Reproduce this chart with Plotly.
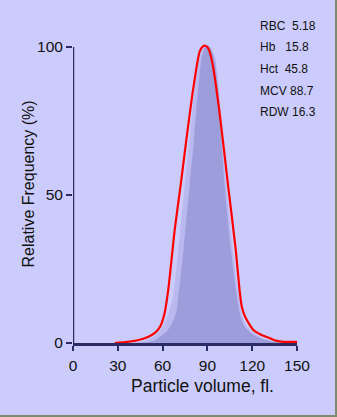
import plotly.graph_objects as go

# ---- data ----
red_v = [28, 35, 44, 50.5, 55, 58.3, 61.3, 63.8, 68.1, 72.1, 75.9, 80.4, 84.8, 87, 88.6,
         90.2, 91.5, 93.8, 98.2, 103.8, 109, 111.5, 113, 115.2, 120.8, 126, 132, 136, 141, 150]
red_f = [0, 0.3, 1.0, 2.1, 3.5, 5.5, 10, 18, 38.2, 53.4, 68.6, 85.5, 98.4, 100.2, 100.4,
         99.8, 98.4, 93.3, 77.6, 53.4, 31.4, 18, 12.3, 8.9, 4.4, 2.8, 1.6, 0.8, 0.4, 0.4]

dark_v = [42, 50, 55, 58, 62, 65, 67.5, 69.4, 70.5, 72, 74, 78.1, 81, 83.7, 85.9, 88, 89.9,
          91.8, 94.9, 97.1, 99.3, 101.5, 103.5, 105.8, 108.5, 110.5, 112.5, 115, 120, 126, 133, 141]
dark_f = [0, 0.3, 0.9, 2, 3.6, 5.5, 8, 11, 16, 22, 31.4, 53.4, 68.6, 85.5, 95.6, 99.5, 100.3,
          99.5, 95.6, 85.5, 68.6, 53.4, 42, 31.4, 20, 13, 8.5, 5.5, 3, 1.5, 0.6, 0]

light_v = [40, 47, 52, 56, 59.5, 62.5, 65, 67, 68.5, 70.5, 74.8, 77.5, 79.8, 82.5, 85, 87.5,
           90, 92.5, 95.5, 97.8, 100, 102.6, 104.8, 107, 109.8, 111.8, 113.5, 116, 121, 128, 135, 143]
light_f = [0, 0.5, 1.5, 3, 5, 8, 12, 15.5, 22, 31.4, 53.4, 66, 77.6, 90, 97, 100.2,
           100.8, 99.8, 95.6, 85.5, 68.6, 53.4, 42, 31.4, 20, 13, 9, 5.8, 3.4, 1.4, 0.5, 0]

x_ticks = [0, 30, 60, 90, 120, 150]
y_ticks = [0, 50, 100]
stats = ["RBC  5.18", "Hb   15.8", "Hct  45.8", "MCV 88.7", "RDW 16.3"]

x_title = "Particle volume, fl."
y_title = "Relative Frequency (%)"

# ---- style ----
BG = "#ccccfc"
NAVY = "#2b2b66"
FONT = "Arial, Liberation Sans, sans-serif"
W, H = 337, 417
L, R, T, B = 73, 40, 41, 74
pw, ph = W - L - R, H - T - B


def px(xp):
    return (xp - L) / pw


def py(yp):
    return (H - B - yp) / ph


fig = go.Figure()
fig.add_trace(go.Scatter(x=light_v, y=light_f, mode="lines", fill="tozeroy",
                         fillcolor="#b9b9ef", line=dict(width=0, shape="spline", smoothing=0.6),
                         hoverinfo="skip", showlegend=False))
fig.add_trace(go.Scatter(x=dark_v, y=dark_f, mode="lines", fill="tozeroy",
                         fillcolor="#9d9ddc", line=dict(width=0, shape="spline", smoothing=0.6),
                         hoverinfo="skip", showlegend=False))
fig.add_trace(go.Scatter(x=red_v, y=red_f, mode="lines",
                         line=dict(color="#ff0000", width=2.2, shape="spline", smoothing=0.6),
                         hoverinfo="skip", showlegend=False))

annotations = []
stat_y = [25.7, 46.7, 69, 90.7, 111.7]
for s, yy in zip(stats, stat_y):
    annotations.append(dict(text=s.replace(" ", "\u00a0"), xref="paper", yref="paper",
                            x=px(258.3), y=py(yy), xanchor="left", yanchor="middle",
                            showarrow=False, font=dict(family=FONT, size=12, color="#111111")))
annotations.append(dict(text=x_title, xref="paper", yref="paper", x=px(202), y=py(386),
                        xanchor="center", yanchor="middle", showarrow=False,
                        font=dict(family=FONT, size=17.5, color="#111111")))
annotations.append(dict(text=y_title, xref="paper", yref="paper", x=px(27.5), y=py(184),
                        xanchor="center", yanchor="middle", textangle=-90, showarrow=False,
                        font=dict(family=FONT, size=16, color="#111111")))

shapes = [
    # y axis line (0..100)
    dict(type="line", xref="x", yref="y", x0=0, x1=0, y0=-0.8, y1=100,
         line=dict(color=NAVY, width=2.5), layer="above"),
    # frame shadow right & bottom
    dict(type="line", xref="paper", yref="paper", x0=px(336), x1=px(336), y0=py(0), y1=py(417),
         line=dict(color="#7d8c6e", width=2)),
    dict(type="line", xref="paper", yref="paper", x0=px(0), x1=px(337), y0=py(416), y1=py(416),
         line=dict(color="#7d8c6e", width=2)),
]

fig.update_layout(
    width=W, height=H,
    margin=dict(l=L, r=R, t=T, b=B, pad=0),
    paper_bgcolor=BG, plot_bgcolor=BG,
    font=dict(family=FONT, color="#111111"),
    annotations=annotations, shapes=shapes,
    showlegend=False,
)
fig.update_xaxes(range=[0, 150], tickvals=x_ticks, ticks="outside", ticklen=5, tickwidth=2,
                 tickcolor=NAVY, showline=True, linecolor=NAVY, linewidth=2.5,
                 showgrid=False, zeroline=False, tickfont=dict(family=FONT, size=15.5, color="#111111"),
                 ticklabelstandoff=2, fixedrange=True)
fig.update_yaxes(range=[0, 102], tickvals=y_ticks, ticks="outside", ticklen=6, tickwidth=2,
                 tickcolor=NAVY, showline=False, showgrid=False, zeroline=False,
                 tickfont=dict(family=FONT, size=15.5, color="#111111"), fixedrange=True)

fig.write_html("out.html", config={"displayModeBar": False})
